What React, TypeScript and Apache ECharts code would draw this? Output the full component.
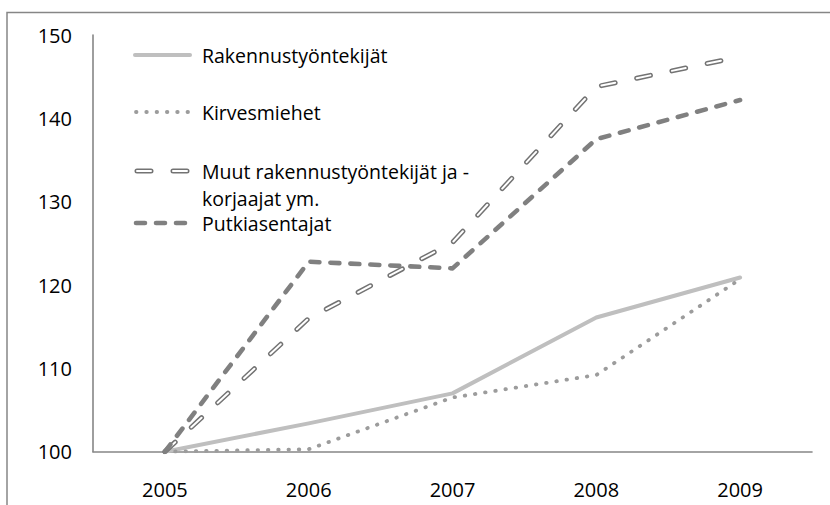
import React, { useEffect, useRef } from "react";
import * as echarts from "echarts";

const years = ["2005", "2006", "2007", "2008", "2009"];
const seriesNames = [
  "Rakennustyöntekijät",
  "Kirvesmiehet",
  "Muut rakennustyöntekijät ja -\nkorjaajat ym.",
  "Putkiasentajat",
];
const rakennus = [100, 103.4, 107.0, 116.1, 120.9];
const kirves = [100, 100.3, 106.5, 109.2, 120.7];
const muut = [100, 116.0, 125.1, 143.8, 147.4];
const putki = [100, 122.8, 122.0, 137.5, 142.2];
const yTicks = { min: 100, max: 150, interval: 10 };

const FONT = "'Open Sans', 'Noto Sans', sans-serif";
const GRAY_AXIS = "#868686";
const TEXT = "#000";

const styles = {
  rak: { color: "#BFBFBF", width: 4, type: "solid" as any, cap: "round" },
  kir: { color: "#9C9C9C", width: 3.8, type: [0.5, 9.8], cap: "round" },
  muutOuter: { color: "#737373", width: 5, type: [14, 22], cap: "round" },
  muutInner: { color: "#FFFFFF", width: 2, type: [14, 22], cap: "round" },
  put: { color: "#808080", width: 4.6, type: [9, 11], cap: "round" },
};

function lineSeries(name: string, data: number[], s: any, z: number, silent = false) {
  return {
    type: "line",
    name,
    data,
    symbol: "none",
    silent,
    z,
    lineStyle: { color: s.color, width: s.width, type: s.type, cap: s.cap, join: "round" },
  };
}

function legendLine(x1: number, x2: number, y: number, s: any, offset = 0) {
  return {
    type: "line",
    shape: { x1, y1: y, x2, y2: y },
    style: {
      stroke: s.color,
      lineWidth: s.width,
      lineDash: Array.isArray(s.type) ? s.type : null,
      lineDashOffset: offset,
      lineCap: s.cap,
    },
    z: 10,
  };
}

export default function App() {
  const ref = useRef<HTMLDivElement>(null);
  useEffect(() => {
    document.body.style.margin = "0";
    const chart = echarts.init(ref.current!, null, { renderer: "svg" });
    const textStyle = { fontFamily: FONT, fontSize: 19.5, fill: TEXT };
    const lx1 = 135;
    const lx2 = 190;
    const tx = 202;
    const rows = [55, 112, 171, 223];
    chart.setOption({
      animation: false,
      backgroundColor: "#fff",
      grid: { left: 93, right: 18, top: 35, bottom: 53.3 },
      xAxis: {
        type: "category",
        data: years,
        boundaryGap: true,
        axisLine: { show: true, lineStyle: { color: GRAY_AXIS, width: 1.6 } },
        axisTick: { show: false },
        axisLabel: {
          margin: 28,
          color: TEXT,
          fontFamily: FONT,
          fontSize: 20,
          lineHeight: 20,
        },
      },
      yAxis: {
        type: "value",
        min: yTicks.min,
        max: yTicks.max,
        interval: yTicks.interval,
        axisLine: { show: true, lineStyle: { color: GRAY_AXIS, width: 1.6 } },
        axisTick: { show: false },
        splitLine: { show: false },
        axisLabel: { margin: 21, color: TEXT, fontFamily: FONT, fontSize: 20 },
      },
      series: [
        lineSeries(seriesNames[0], rakennus, styles.rak, 2),
        lineSeries(seriesNames[1], kirves, styles.kir, 3),
        lineSeries(seriesNames[2], muut, styles.muutOuter, 4),
        lineSeries(seriesNames[2] + " (sisä)", muut, styles.muutInner, 5, true),
        lineSeries(seriesNames[3], putki, styles.put, 6),
      ],
      graphic: [
        {
          type: "rect",
          shape: { x: 7, y: 12.5, width: 900, height: 600 },
          style: { fill: "none", stroke: GRAY_AXIS, lineWidth: 1.5 },
          z: 0,
          silent: true,
        },
        legendLine(lx1, lx2, rows[0], styles.rak),
        legendLine(lx1 + 1, lx2 + 2, rows[1], styles.kir),
        legendLine(lx1 + 2, lx2 + 4, rows[2], styles.muutOuter),
        legendLine(lx1 + 2, lx2 + 4, rows[2], styles.muutInner),
        legendLine(lx1 + 1, lx2 + 2, rows[3], styles.put),
        { type: "text", x: tx, y: rows[0], style: { ...textStyle, text: seriesNames[0], verticalAlign: "middle" }, z: 10 },
        { type: "text", x: tx, y: rows[1], style: { ...textStyle, text: seriesNames[1], verticalAlign: "middle" }, z: 10 },
        {
          type: "text",
          x: tx,
          y: rows[2] - 13,
          style: { ...textStyle, text: seriesNames[2], verticalAlign: "top", lineHeight: 27 },
          z: 10,
        },
        { type: "text", x: tx, y: rows[3], style: { ...textStyle, text: seriesNames[3], verticalAlign: "middle" }, z: 10 },
      ],
    });
    return () => chart.dispose();
  }, []);
  return <div ref={ref} style={{ width: 830, height: 505 }} />;
}
